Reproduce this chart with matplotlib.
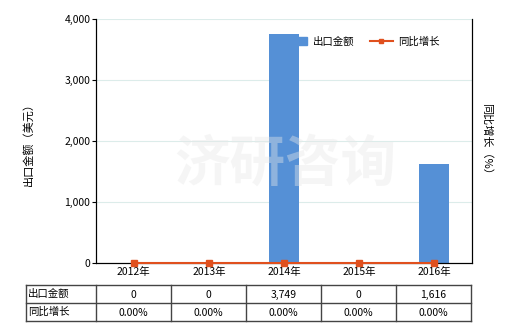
import matplotlib
matplotlib.use("Agg")
import matplotlib.pyplot as plt
from matplotlib.lines import Line2D
from matplotlib.patches import Patch

plt.rcParams['font.family'] = ['Noto Sans CJK SC', 'DejaVu Sans']

years = ['2012年', '2013年', '2014年', '2015年', '2016年']
export_values = [0, 0, 3749, 0, 1616]
growth_values = [0.0, 0.0, 0.0, 0.0, 0.0]
export_labels = ['0', '0', '3,749', '0', '1,616']
growth_labels = ['0.00%', '0.00%', '0.00%', '0.00%', '0.00%']
yticks = [0, 1000, 2000, 3000, 4000]
ytick_labels = ['0', '1,000', '2,000', '3,000', '4,000']
row_names = ['出口金额', '同比增长']

W, H = 520, 330
fig = plt.figure(figsize=(W/100, H/100), dpi=100)

def fx(px): return px / W
def fy(py): return 1 - py / H

ax_l, ax_r, ax_t, ax_b = 96, 472, 19, 263
ax = fig.add_axes([fx(ax_l), fy(ax_b), fx(ax_r - ax_l), (ax_b - ax_t) / H])

bar_color = '#5590d6'
line_color = '#e0501e'
xs = list(range(len(years)))
ax.bar(xs, export_values, width=0.4, color=bar_color, zorder=2)
ax.set_xlim(-0.5, len(years) - 0.5)
ax.set_ylim(0, 4000)
ax.set_yticks(yticks)
ax.set_yticklabels(ytick_labels, fontsize=7.5)
ax.set_xticks(xs)
ax.set_xticklabels(years, fontsize=7.5)
ax.tick_params(axis='x', length=0, pad=3)
ax.tick_params(axis='y', length=3, pad=1)
ax.grid(axis='y', color='#dcecea', linewidth=0.8, zorder=0)
ax.set_axisbelow(True)
ax.spines['top'].set_visible(False)
ax.set_ylabel('出口金额（美元）', fontsize=8, labelpad=22)

ax2 = ax.twinx()
ax2.plot(xs, growth_values, color=line_color, marker='s', markersize=4, linewidth=1.5, zorder=5, clip_on=False)
ax2.set_ylim(0, 1)
ax2.set_yticks([])
ax2.spines['top'].set_visible(False)
ax2.set_ylabel('同比增长（%）', fontsize=8, rotation=-90, labelpad=14)

# watermark
fig.text(fx(285), fy(165), '济研咨询', fontsize=40, color='#e8e8e8', alpha=0.4,
         ha='center', va='center', zorder=0, fontweight='bold')

# legend
handles = [Patch(color=bar_color, label='出口金额'),
           Line2D([0], [0], color=line_color, marker='s', markersize=3, linewidth=1.5, label='同比增长')]
leg = ax.legend(handles=handles, loc='upper left', bbox_to_anchor=(fx(275), fy(27)),
                bbox_transform=fig.transFigure, ncol=2, frameon=False, fontsize=7.5,
                handlelength=2.2, columnspacing=1.5, handletextpad=0.5)

# table
col_x = [26, 96, 171, 246, 321, 396, 471]
row_y = [285, 303, 321]
tc = '#444444'
for y in row_y:
    fig.add_artist(Line2D([fx(col_x[0]), fx(col_x[-1])], [fy(y), fy(y)], color=tc, linewidth=1))
for x in col_x:
    fig.add_artist(Line2D([fx(x), fx(x)], [fy(row_y[0]), fy(row_y[-1])], color=tc, linewidth=1))
rows = [export_labels, growth_labels]
for r, (name, labels) in enumerate(zip(row_names, rows)):
    yc = (row_y[r] + row_y[r+1]) / 2
    fig.text(fx(col_x[0] + 2), fy(yc), name, fontsize=7.5, ha='left', va='center')
    for c, lab in enumerate(labels):
        xc = (col_x[c+1] + col_x[c+2]) / 2
        fig.text(fx(xc), fy(yc + 1), lab, fontsize=7.5, ha='center', va='center')

fig.savefig('out.png', dpi=100)
